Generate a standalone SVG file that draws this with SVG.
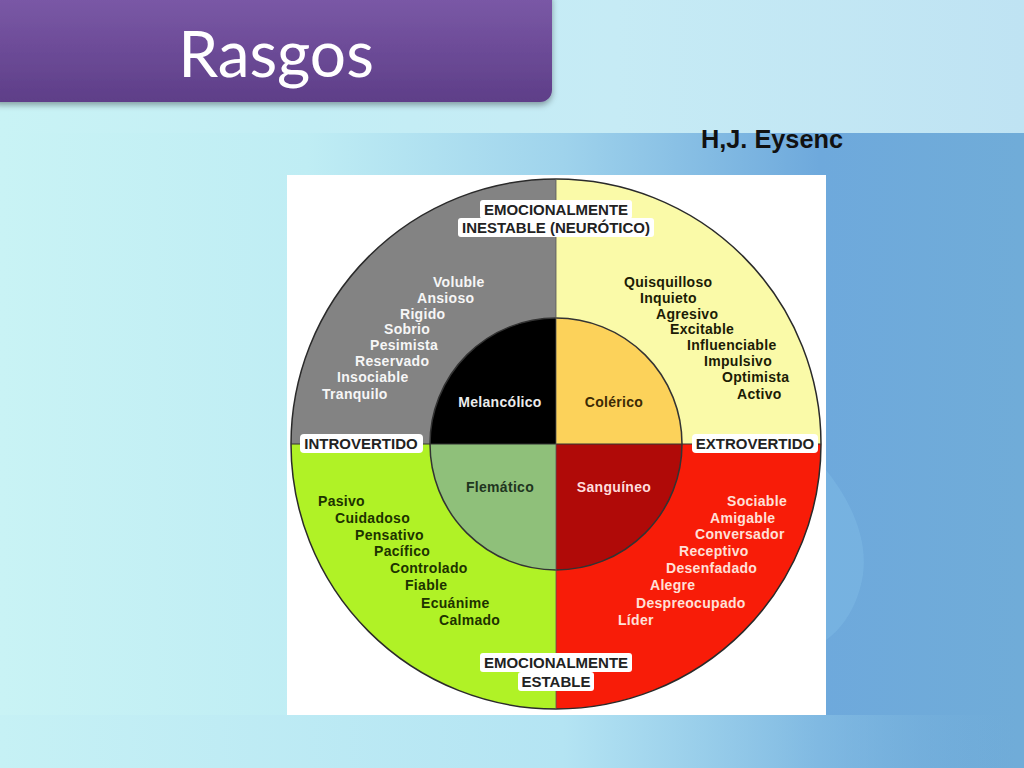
<svg xmlns="http://www.w3.org/2000/svg" width="1024" height="768" viewBox="0 0 1024 768">
<defs>
<linearGradient id="bg" x1="0" y1="0" x2="1" y2="0">
<stop offset="0" stop-color="#c9f3f5"/>
<stop offset="0.3" stop-color="#bfedf4"/>
<stop offset="0.55" stop-color="#9fd3ec"/>
<stop offset="0.8" stop-color="#6ea9dc"/>
<stop offset="1" stop-color="#70acd8"/>
</linearGradient>
<linearGradient id="top" x1="0" y1="0" x2="1" y2="0">
<stop offset="0" stop-color="#c9f3f5"/>
<stop offset="0.3" stop-color="#c3eef5"/>
<stop offset="0.6" stop-color="#c6ebf5"/>
<stop offset="1" stop-color="#bfe3f3"/>
</linearGradient>
<linearGradient id="bot" x1="0" y1="0" x2="1" y2="0">
<stop offset="0" stop-color="#c6f1f5"/>
<stop offset="0.55" stop-color="#b4e4f3"/>
<stop offset="0.8" stop-color="#8cc4e6" stop-opacity="0.6"/>
<stop offset="1" stop-color="#70acd8" stop-opacity="0"/>
</linearGradient>
<linearGradient id="bar" x1="0" y1="0" x2="0" y2="1">
<stop offset="0" stop-color="#7d5ba9"/>
<stop offset="1" stop-color="#5e3e88"/>
</linearGradient>
<filter id="sh" x="-5%" y="-10%" width="110%" height="130%">
<feDropShadow dx="0" dy="3" stdDeviation="3" flood-color="#000" flood-opacity="0.35"/>
</filter>
<style>
.lst{font-family:"Liberation Sans",Arial,sans-serif;font-weight:bold;font-size:14px;letter-spacing:0.3px}
.hdr{font-family:"Liberation Sans",Arial,sans-serif;font-weight:bold;font-size:15px;fill:#222;text-anchor:middle}
.in{font-family:"Liberation Sans",Arial,sans-serif;font-weight:bold;font-size:14px;text-anchor:middle;letter-spacing:0.3px}
.box{fill:#fff}
</style>
</defs>

<!-- background -->
<rect x="0" y="0" width="1024" height="768" fill="url(#bg)"/>
<rect x="0" y="0" width="1024" height="133" fill="url(#top)"/>
<rect x="0" y="715" width="1024" height="53" fill="url(#bot)"/>
<path d="M826,470 C850,500 870,540 862,580 C856,610 840,630 826,640 Z" fill="#86c2ea" opacity="0.35"/>

<!-- title -->
<g id="title">
<rect x="-12" y="-12" width="564" height="114" rx="12" fill="url(#bar)" filter="url(#sh)"/>
<text x="276" y="77" font-family="Lato,'Open Sans',sans-serif" font-size="64" fill="#ffffff" text-anchor="middle">Rasgos</text>
</g>

<g id="author">
<text x="701" y="148" font-family="'Liberation Sans',Arial,sans-serif" font-weight="bold" font-size="25.3" fill="#111">H,J. Eysenc</text>
</g>

<!-- image panel -->
<rect x="287" y="175" width="539" height="540" fill="#ffffff"/>

<g id="quadrants">
<g id="q-tl"><path d="M556,444 L291,444 A265,265 0 0 1 556,179 Z" fill="#838383"/></g>
<g id="q-tr"><path d="M556,444 L556,179 A265,265 0 0 1 821,444 Z" fill="#fafaa8"/></g>
<g id="q-br"><path d="M556,444 L821,444 A265,265 0 0 1 556,709 Z" fill="#f81c08"/></g>
<g id="q-bl"><path d="M556,444 L556,709 A265,265 0 0 1 291,444 Z" fill="#b0f226"/></g>
<circle cx="556" cy="444" r="265" fill="none" stroke="#2a2a2a" stroke-width="1.5"/>
</g>

<g id="inner">
<g id="melancolico"><path d="M556,444 L430,444 A126,126 0 0 1 556,318 Z" fill="#000"/>
<text class="in" x="500" y="407" fill="#ececec">Melancólico</text></g>
<g id="colerico"><path d="M556,444 L556,318 A126,126 0 0 1 682,444 Z" fill="#fcd25a"/>
<text class="in" x="614" y="407" fill="#3b2a05">Colérico</text></g>
<g id="sanguineo"><path d="M556,444 L682,444 A126,126 0 0 1 556,570 Z" fill="#b00a08"/>
<text class="in" x="614" y="492" fill="#ffdcdc">Sanguíneo</text></g>
<g id="flematico"><path d="M556,444 L556,570 A126,126 0 0 1 430,444 Z" fill="#8fc07a"/>
<text class="in" x="500" y="492" fill="#1f351f">Flemático</text></g>
<circle cx="556" cy="444" r="126" fill="none" stroke="#333" stroke-width="1.5"/>
</g>

<g id="axes">
<line x1="291" y1="444" x2="821" y2="444" stroke="#333" stroke-width="1"/>
<line x1="556" y1="179" x2="556" y2="709" stroke="#555" stroke-width="0.8"/>
</g>

<g id="lst-tl" class="lst" fill="#f6f6f6">
<text x="433" y="287">Voluble</text>
<text x="417" y="303">Ansioso</text>
<text x="400" y="319">Rigido</text>
<text x="384" y="334">Sobrio</text>
<text x="370" y="350">Pesimista</text>
<text x="355" y="366">Reservado</text>
<text x="337" y="382">Insociable</text>
<text x="322" y="399">Tranquilo</text>
</g>

<g id="lst-tr" class="lst" fill="#1c1c05">
<text x="624" y="287">Quisquilloso</text>
<text x="640" y="303">Inquieto</text>
<text x="656" y="319">Agresivo</text>
<text x="670" y="334">Excitable</text>
<text x="687" y="350">Influenciable</text>
<text x="704" y="366">Impulsivo</text>
<text x="722" y="382">Optimista</text>
<text x="737" y="399">Activo</text>
</g>

<g id="lst-bl" class="lst" fill="#1d3300">
<text x="318" y="506">Pasivo</text>
<text x="335" y="523">Cuidadoso</text>
<text x="355" y="540">Pensativo</text>
<text x="374" y="556">Pacífico</text>
<text x="390" y="573">Controlado</text>
<text x="405" y="590">Fiable</text>
<text x="421" y="608">Ecuánime</text>
<text x="439" y="625">Calmado</text>
</g>

<g id="lst-br" class="lst" fill="#ffe0d8">
<text x="727" y="506">Sociable</text>
<text x="710" y="523">Amigable</text>
<text x="695" y="539">Conversador</text>
<text x="679" y="556">Receptivo</text>
<text x="666" y="573">Desenfadado</text>
<text x="650" y="590">Alegre</text>
<text x="636" y="608">Despreocupado</text>
<text x="618" y="625">Líder</text>
</g>

<g id="lbl-top">
<rect class="box" x="480" y="200" width="152" height="19" rx="3"/>
<rect class="box" x="458" y="218" width="196" height="19" rx="3"/>
<text class="hdr" x="556" y="215">EMOCIONALMENTE</text>
<text class="hdr" x="556" y="233">INESTABLE (NEURÓTICO)</text>
</g>

<g id="lbl-left">
<rect class="box" x="300" y="434" width="123" height="19" rx="4"/>
<text class="hdr" x="361" y="449">INTROVERTIDO</text>
</g>

<g id="lbl-right">
<rect class="box" x="692" y="434" width="126" height="19" rx="4"/>
<text class="hdr" x="755" y="449">EXTROVERTIDO</text>
</g>

<g id="lbl-bottom">
<rect class="box" x="480" y="653" width="152" height="19" rx="3"/>
<rect class="box" x="518" y="672" width="76" height="19" rx="3"/>
<text class="hdr" x="556" y="668">EMOCIONALMENTE</text>
<text class="hdr" x="556" y="687">ESTABLE</text>
</g>
</svg>
